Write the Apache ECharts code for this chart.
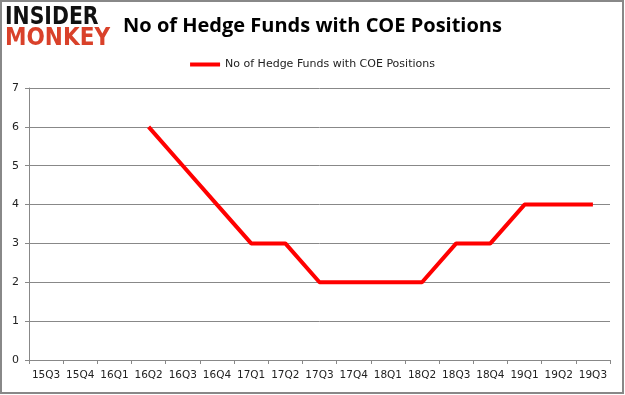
<!DOCTYPE html>
<html><head><meta charset="utf-8">
<script src="https://cdn.jsdelivr.net/npm/echarts@6/dist/echarts.min.js"></script>
<style>html,body{margin:0;padding:0;background:#fff}#c{width:625px;height:395px}</style>
</head><body><div id="c"></div>
<script>
const categories = ['15Q3','15Q4','16Q1','16Q2','16Q3','16Q4','17Q1','17Q2','17Q3','17Q4','18Q1','18Q2','18Q3','18Q4','19Q1','19Q2','19Q3'];
const seriesName = 'No of Hedge Funds with COE Positions';
const values = [null,null,null,6,5,4,3,3,2,2,2,2,3,3,4,4,4];
const titleText = 'No of Hedge Funds with COE Positions';

const chart = echarts.init(document.getElementById('c'), null, {renderer:'canvas'});
chart.setOption({
  animation:false,
  backgroundColor:'#fff',
  title:{text:titleText,left:'center',top:11,textStyle:{fontFamily:'Open Sans',fontWeight:'bold',fontSize:20,color:'#000'}},
  legend:{top:54,left:'center',itemWidth:30,itemHeight:4,icon:'rect',itemGap:2,
    textStyle:{fontFamily:'DejaVu Sans',fontSize:11,color:'#222'},data:[seriesName]},
  grid:{left:29,right:15,top:88,bottom:35},
  xAxis:{type:'category',data:categories,boundaryGap:true,
    axisLine:{lineStyle:{color:'#888',width:1}},
    axisTick:{show:true,alignWithLabel:false,length:4,lineStyle:{color:'#888'}},
    axisLabel:{fontFamily:'DejaVu Sans',fontSize:10.5,color:'#222',margin:10,interval:0}},
  yAxis:{type:'value',min:0,max:7,interval:1,
    axisLine:{show:true,lineStyle:{color:'#888'}},
    axisTick:{show:true,length:4,lineStyle:{color:'#888'}},
    splitLine:{lineStyle:{color:'#888',width:1}},
    axisLabel:{fontFamily:'DejaVu Sans',fontSize:11,color:'#222',margin:10}},
  series:[{name:seriesName,type:'line',data:values,symbol:'none',connectNulls:false,
    lineStyle:{color:'#ff0000',width:4},itemStyle:{color:'#ff0000'}}],
  graphic:[
    {type:'rect',shape:{x:1,y:1,width:622,height:392},style:{fill:'none',stroke:'#888',lineWidth:2},z:100},
    {type:'text',left:5,top:6,style:{text:'INSIDER',font:'bold 24px "DejaVu Sans"',fill:'#111'},scaleX:0.85},
    {type:'text',left:5,top:27,style:{text:'MONKEY',font:'bold 24px "DejaVu Sans"',fill:'#d9412a'},scaleX:0.9}
  ]
});
</script></body></html>
